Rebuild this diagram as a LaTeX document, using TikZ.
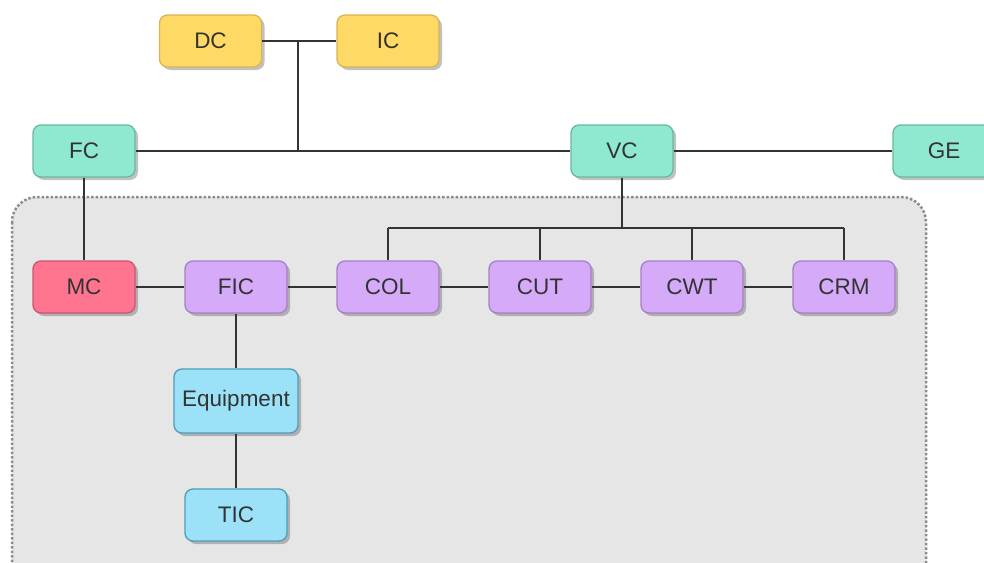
\documentclass[tikz,border=0pt]{standalone}
\usepackage{fontspec}
\setmainfont{Liberation Sans}
\usetikzlibrary{shadows}
\definecolor{ylwfill}{HTML}{FFD966}
\definecolor{ylwline}{HTML}{D6B656}
\definecolor{tealfill}{HTML}{8FE9D0}
\definecolor{tealline}{HTML}{67B8A0}
\definecolor{pinkfill}{HTML}{FF7590}
\definecolor{pinkline}{HTML}{C95570}
\definecolor{purpfill}{HTML}{D5AAF8}
\definecolor{purpline}{HTML}{A67FC6}
\definecolor{bluefill}{HTML}{9BE2F8}
\definecolor{blueline}{HTML}{4F9CB8}
\definecolor{txt}{HTML}{333333}
\definecolor{grpfill}{HTML}{E6E6E6}
\definecolor{grpline}{HTML}{8C8C8C}
\begin{document}
\begin{tikzpicture}[x=1pt,y=-1pt,
  box/.style={rounded corners=8pt, minimum width=102pt, minimum height=52pt,
    line width=1.3pt, text=txt, font=\fontsize{22.5}{26}\selectfont, inner sep=2pt,
    drop shadow={shadow xshift=3pt, shadow yshift=-3pt, opacity=0.35, fill=black!70}},
  ylw/.style={box, fill=ylwfill, draw=ylwline},
  teal/.style={box, fill=tealfill, draw=tealline},
  pink/.style={box, fill=pinkfill, draw=pinkline},
  purp/.style={box, fill=purpfill, draw=purpline},
  blu/.style={box, fill=bluefill, draw=blueline},
  link/.style={line width=2pt, draw=txt}]
\useasboundingbox (0,0) rectangle (984,562);
% group
\draw[grpline, fill=grpfill, line width=2.5pt, dotted, rounded corners=25pt] (12,197) rectangle (926,590);
% nodes
\node[ylw] (DC) at (210.5,41) {DC};
\node[ylw] (IC) at (388,41) {IC};
\node[teal] (FC) at (84,151) {FC};
\node[teal] (VC) at (622,151) {VC};
\node[teal] (GE) at (944,151) {GE};
\node[pink] (MC) at (84,287) {MC};
\node[purp] (FIC) at (236,287) {FIC};
\node[purp] (COL) at (388,287) {COL};
\node[purp] (CUT) at (540,287) {CUT};
\node[purp] (CWT) at (692,287) {CWT};
\node[purp] (CRM) at (844,287) {CRM};
\node[blu, minimum width=124pt, minimum height=64pt] (EQ) at (236,401) {Equipment};
\node[blu] (TIC) at (236,515) {TIC};
% coordinates
\coordinate (j1) at (298,41);
\coordinate (j2) at (298,151);
\coordinate (b0) at (622,228);
\coordinate (b1) at (388,228);
\coordinate (b2) at (540,228);
\coordinate (b3) at (692,228);
\coordinate (b4) at (844,228);
% connectors
\draw[link] (DC) -- (IC);
\draw[link] (j1) -- (j2);
\draw[link] (FC) -- (VC);
\draw[link] (VC) -- (GE);
\draw[link] (FC) -- (MC);
\draw[link] (MC) -- (FIC);
\draw[link] (FIC) -- (COL);
\draw[link] (COL) -- (CUT);
\draw[link] (CUT) -- (CWT);
\draw[link] (CWT) -- (CRM);
\draw[link] (FIC) -- (EQ);
\draw[link] (EQ) -- (TIC);
\draw[link] (VC) -- (b0);
\draw[link] (b1) -- (b4);
\draw[link] (b1) -- (COL);
\draw[link] (b2) -- (CUT);
\draw[link] (b3) -- (CWT);
\draw[link] (b4) -- (CRM);
\end{tikzpicture}
\end{document}
